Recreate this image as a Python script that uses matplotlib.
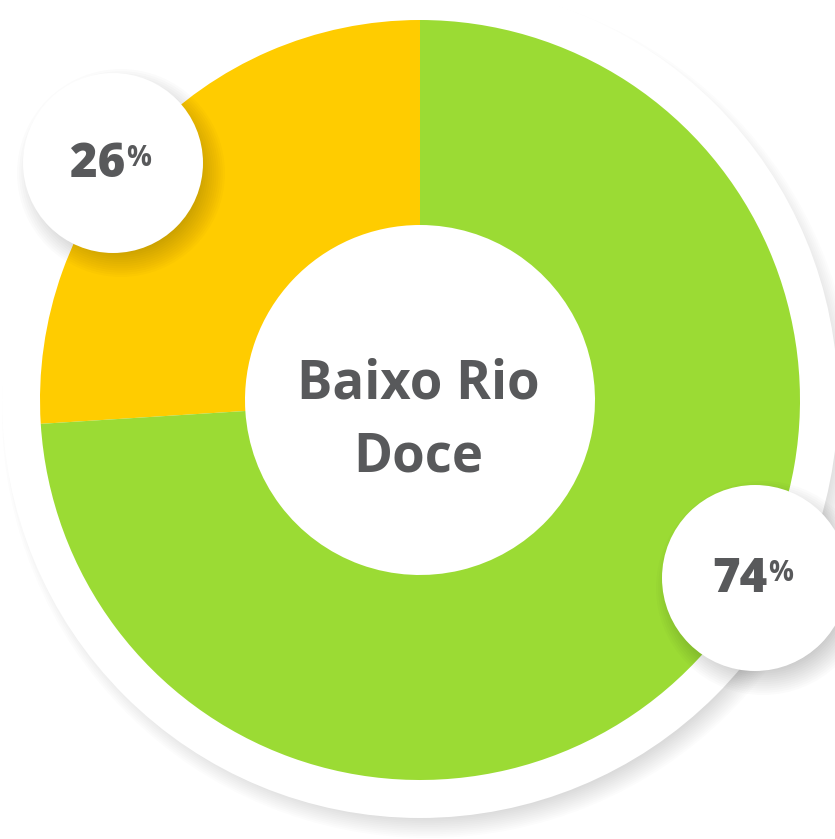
import matplotlib
matplotlib.use("Agg")
import matplotlib.pyplot as plt
from matplotlib.patches import Circle

# Share of the region, in percent
segments = ["Outros", "Principal"]
shares = [26, 74]
colors = ["#FFCC00", "#9BDB34"]
region = "Baixo Rio\nDoce"

TEXT = "#58595B"
FONT = "Open Sans"
W, H = 835, 839

# Layout in pixel-like data units (y grows upwards)
CX, CY = 420, 439
R_OUT, R_IN = 380, 175
R_BACK = 418
# label bubbles: (x, y, radius) for each segment
bubbles = [(113, 676, 90), (755, 261, 93)]


def soft_shadow(ax, x, y, r, blur, alpha, zorder):
    """Fake a blurred drop shadow with stacked translucent circles."""
    steps = 14
    for i in range(steps):
        rr = r + blur * (1 - 2 * i / (steps - 1))
        ax.add_patch(Circle((x, y), rr, color="black", alpha=alpha / steps,
                            lw=0, zorder=zorder))


fig = plt.figure(figsize=(W / 100, H / 100), dpi=100)
ax = fig.add_axes([0, 0, 1, 1])

# white backing disc behind the donut
soft_shadow(ax, CX + 8, CY - 12, R_BACK - 4, 12, 0.14, 1)
ax.add_patch(Circle((CX, CY), R_BACK, color="white", lw=0, zorder=2))

wedges, _ = ax.pie(shares, colors=colors, startangle=90, counterclock=True,
                   center=(CX, CY), radius=R_OUT,
                   wedgeprops=dict(width=R_OUT - R_IN, linewidth=0))
for w in wedges:
    w.set_zorder(3)
ax.set_xlim(0, W)
ax.set_ylim(0, H)
ax.set_aspect("equal")
ax.axis("off")

ax.text(CX - 2, 418, region, ha="center", va="center", fontsize=38,
        fontweight="bold", family=FONT, color=TEXT, linespacing=1.46,
        zorder=5)

for (bx, by, br), val in zip(bubbles, shares):
    soft_shadow(ax, bx + 8, by - 10, br, 14, 0.22, 4)
    ax.add_patch(Circle((bx, by), br, color="white", lw=0, zorder=5))
    ax.text(bx + 12, by - 2, f"{val}", ha="right", va="center", fontsize=34,
            fontweight="heavy", family=FONT, color=TEXT, zorder=6)
    ax.text(bx + 13, by + 19, "%", ha="left", va="top", fontsize=20,
            fontweight="bold", family=FONT, color=TEXT, zorder=6)

fig.savefig("out.png", dpi=100)
